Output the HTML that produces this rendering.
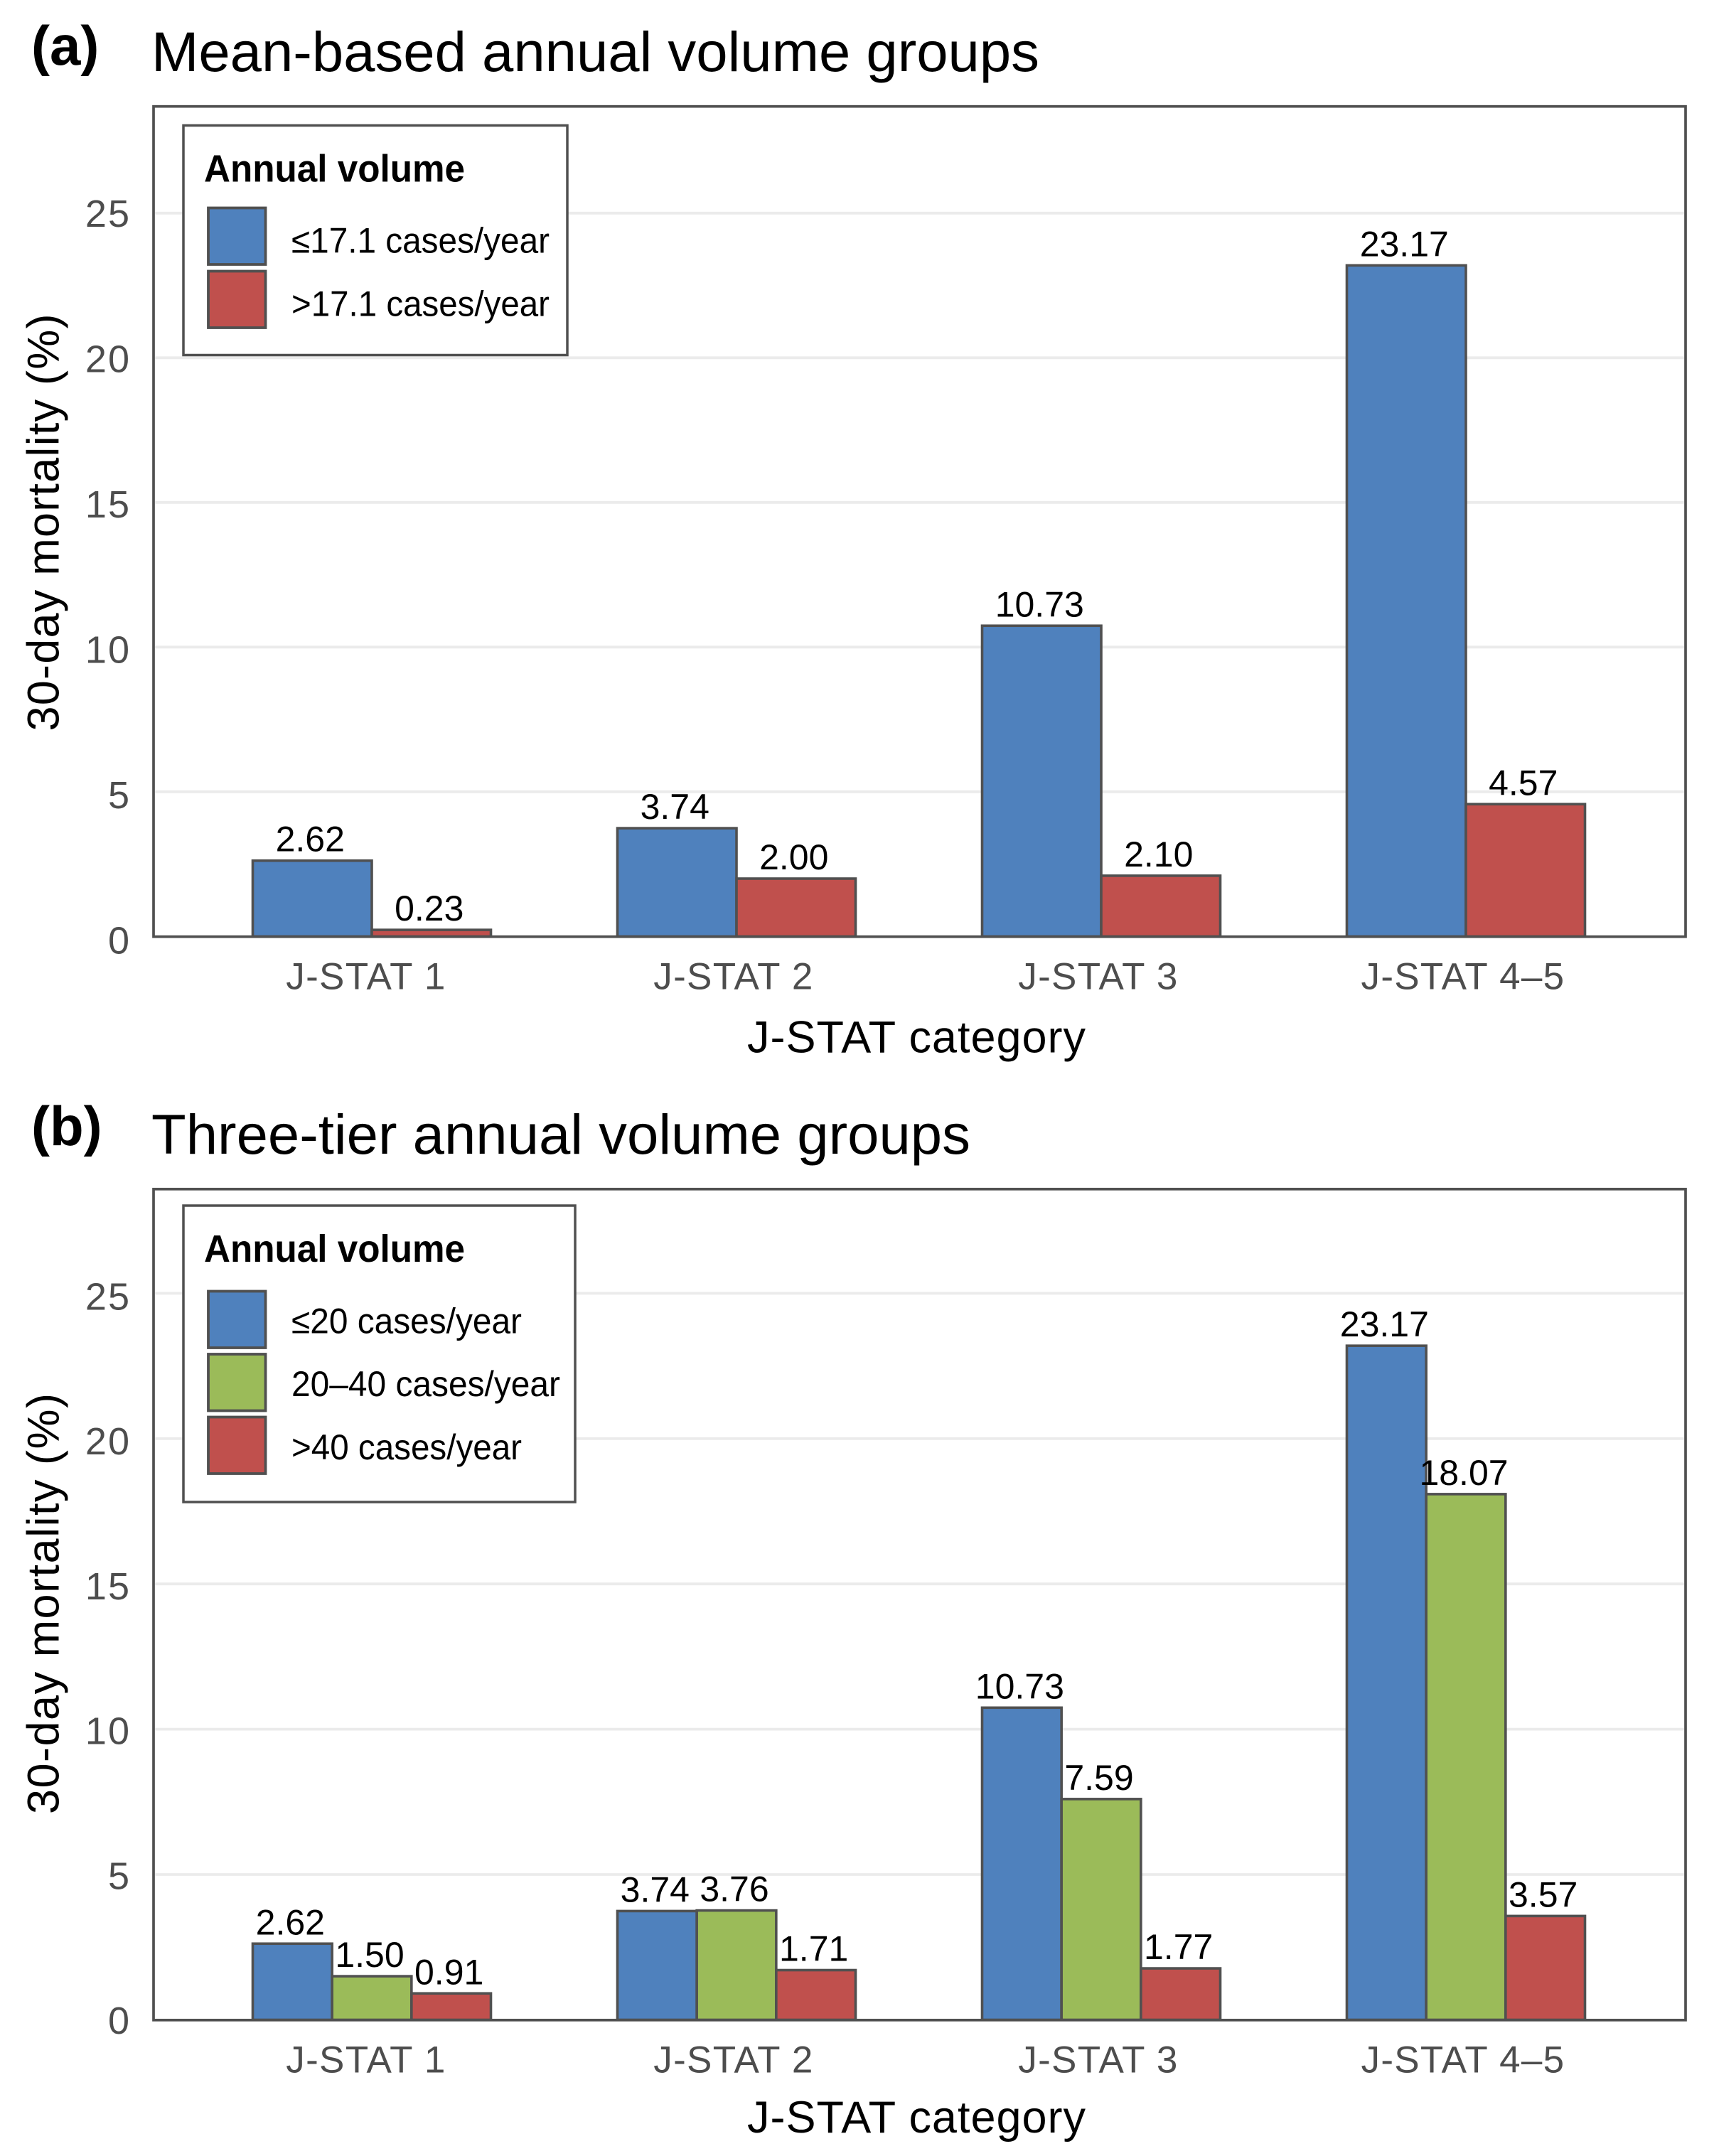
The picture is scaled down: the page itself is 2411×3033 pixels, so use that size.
<!DOCTYPE html>
<html lang="en">
<head>
<meta charset="utf-8">
<title>30-day mortality by J-STAT category and annual volume</title>
<style>
html,body{margin:0;padding:0;background:#fff;width:2411px;height:3033px;overflow:hidden}
svg{display:block;filter:blur(0.35px)}
text{font-family:"Liberation Sans",Arial,sans-serif;fill:#000}
.ytick{fill:#4d4d4d;font-size:54px;letter-spacing:2px}
.xtick{fill:#4d4d4d;font-size:53px;letter-spacing:1.3px}
.val{font-size:50px}
.axt{font-size:63px}
.ttl{font-size:79px}
.tag{font-size:78px;font-weight:bold}
.lgt{font-size:54px;font-weight:bold}
.lgl{font-size:50px}
.frame{fill:none;stroke:#505050;stroke-width:3.7}
.lgb{fill:#fff;stroke:#505050;stroke-width:3.5}
.sw{stroke:#505050;stroke-width:3.8}
</style>
</head>
<body>
<svg id="chart" xmlns="http://www.w3.org/2000/svg" width="2411" height="3033" viewBox="0 0 2411 3033">
  <rect x="0" y="0" width="2411" height="3033" fill="#fff"/>

  <g>
    <text class="tag" x="44" y="91">(a)</text>
    <text class="ttl" x="213" y="100" textLength="1249" lengthAdjust="spacingAndGlyphs">Mean-based annual volume groups</text>
    <g id="a-grid"></g>
    <g id="a-bars"></g>
    <g id="a-vals"></g>
    <rect class="frame" x="216" y="149.7" width="2155" height="1168"/>
    <g id="a-yt"></g>
    <g id="a-xt"></g>
    <text class="axt" transform="translate(82.5 735) rotate(-90)" text-anchor="middle" textLength="587" lengthAdjust="spacing">30-day mortality (%)</text>
    <text class="axt" x="1289" y="1480.5" text-anchor="middle" textLength="476" lengthAdjust="spacing">J-STAT category</text>
    <g>
      <rect class="lgb" x="258" y="176.5" width="540" height="323"/>
      <text class="lgt" x="287" y="255.5" textLength="367" lengthAdjust="spacingAndGlyphs">Annual volume</text>
      <rect class="sw" x="293" y="292.5" width="80.5" height="79.5" fill="#4F81BD"/>
      <text class="lgl" x="410" y="355.5" textLength="363" lengthAdjust="spacingAndGlyphs">≤17.1 cases/year</text>
      <rect class="sw" x="293" y="381.5" width="80.5" height="79.5" fill="#C0504D"/>
      <text class="lgl" x="410" y="444.5" textLength="363" lengthAdjust="spacingAndGlyphs">&gt;17.1 cases/year</text>
    </g>
  </g>

  <g>
    <text class="tag" x="44" y="1611">(b)</text>
    <text class="ttl" x="213" y="1623" textLength="1152" lengthAdjust="spacingAndGlyphs">Three-tier annual volume groups</text>
    <g id="b-grid"></g>
    <g id="b-bars"></g>
    <g id="b-vals"></g>
    <rect class="frame" x="216" y="1672.8" width="2155" height="1169"/>
    <g id="b-yt"></g>
    <g id="b-xt"></g>
    <text class="axt" transform="translate(82.5 2256) rotate(-90)" text-anchor="middle" textLength="592" lengthAdjust="spacing">30-day mortality (%)</text>
    <text class="axt" x="1289" y="3000" text-anchor="middle" textLength="476" lengthAdjust="spacing">J-STAT category</text>
    <g>
      <rect class="lgb" x="258" y="1696" width="551" height="417"/>
      <text class="lgt" x="287" y="1775" textLength="367" lengthAdjust="spacingAndGlyphs">Annual volume</text>
      <rect class="sw" x="293" y="1816.5" width="80.5" height="79.5" fill="#4F81BD"/>
      <text class="lgl" x="410" y="1875.5" textLength="324" lengthAdjust="spacingAndGlyphs">≤20 cases/year</text>
      <rect class="sw" x="293" y="1905" width="80.5" height="79.5" fill="#9BBB59"/>
      <text class="lgl" x="410" y="1964" textLength="378" lengthAdjust="spacingAndGlyphs">20–40 cases/year</text>
      <rect class="sw" x="293" y="1993.5" width="80.5" height="79.5" fill="#C0504D"/>
      <text class="lgl" x="410" y="2053" textLength="324" lengthAdjust="spacingAndGlyphs">&gt;40 cases/year</text>
    </g>
  </g>
</svg>

<script>
var categories = ['J-STAT 1', 'J-STAT 2', 'J-STAT 3', 'J-STAT 4–5'];
var yTicks = [0, 5, 10, 15, 20, 25];
var meanLowVolume = [2.62, 3.74, 10.73, 23.17];
var meanHighVolume = [0.23, 2.00, 2.10, 4.57];
var tierLowVolume = [2.62, 3.74, 10.73, 23.17];
var tierMidVolume = [1.50, 3.76, 7.59, 18.07];
var tierHighVolume = [0.91, 1.71, 1.77, 3.57];

var SVG_NS = 'http://www.w3.org/2000/svg';

function xCenter(i) { return 523 + 513 * i; }

function make(tag, attrs, parent, txt) {
  var el = document.createElementNS(SVG_NS, tag);
  for (var k in attrs) { el.setAttribute(k, attrs[k]); }
  if (txt !== undefined) { el.textContent = txt; }
  parent.appendChild(el);
  return el;
}

function drawPanel(p) {
  var gGrid = document.getElementById(p.id + '-grid');
  var gBars = document.getElementById(p.id + '-bars');
  var gVals = document.getElementById(p.id + '-vals');
  var gYt = document.getElementById(p.id + '-yt');
  var gXt = document.getElementById(p.id + '-xt');
  var yScale = function (v) { return p.base - v * p.unit; };
  var gridY = function (v) { return p.gridBase - v * p.gridUnit; };
  var tickY = function (v) { return p.tickBase - v * p.tickUnit; };

  yTicks.forEach(function (t) {
    if (t > 0) {
      var line = make('line', { x1: 218, x2: 2369, y1: gridY(t), y2: gridY(t), stroke: '#ebebeb', 'stroke-width': 3.8 }, gGrid);
      
      
    }
    var label = make('text', { 'class': 'ytick', x: 184, y: tickY(t), 'text-anchor': 'end' }, gYt, String(t));
    
    
  });

  categories.forEach(function (c, i) {
    var nudge = i === 0 ? -8 : -4;
    var label = make('text', { 'class': 'xtick', x: xCenter(i) + nudge, y: p.xTickY, 'text-anchor': 'middle' }, gXt, c);
    
    
  });

  var groupWidth = 335;
  var barWidth = groupWidth / p.series.length;
  p.series.forEach(function (s) { s.order = p.series.indexOf(s); });
  categories.forEach(function (c, i) {
    p.series.forEach(function (s) {
      var left = xCenter(i) - groupWidth / 2 + s.order * barWidth;
      var v = s.values[i];
      var top = yScale(v);
      var bar = make('rect', { x: left, y: top, width: barWidth, height: p.base - top, fill: s.color, stroke: '#505050', 'stroke-width': 3.6 }, gBars);
      
      
    });
  });
  categories.forEach(function (c, i) {
    p.series.forEach(function (s) {
      var left = xCenter(i) - groupWidth / 2 + s.order * barWidth;
      var v = s.values[i];
      var text = make('text', { 'class': 'val', x: left + barWidth / 2 - 3, y: yScale(v) - 13, 'text-anchor': 'middle' }, gVals, v.toFixed(2));
      
      
    });
  });
}

drawPanel({
  id: 'a', base: 1317.5, unit: 40.75, gridBase: 1317.3, gridUnit: 40.7,
  tickBase: 1341.5, tickUnit: 40.9, xTickY: 1391.5,
  series: [
    { key: 'low', color: '#4F81BD', values: meanLowVolume },
    { key: 'high', color: '#C0504D', values: meanHighVolume }
  ]
});
drawPanel({
  id: 'b', base: 2841.5, unit: 40.93, gridBase: 2841.4, gridUnit: 40.88,
  tickBase: 2861, tickUnit: 40.74, xTickY: 2915.5,
  series: [
    { key: 'low', color: '#4F81BD', values: tierLowVolume },
    { key: 'mid', color: '#9BBB59', values: tierMidVolume },
    { key: 'high', color: '#C0504D', values: tierHighVolume }
  ]
});
</script>
</body>
</html>
